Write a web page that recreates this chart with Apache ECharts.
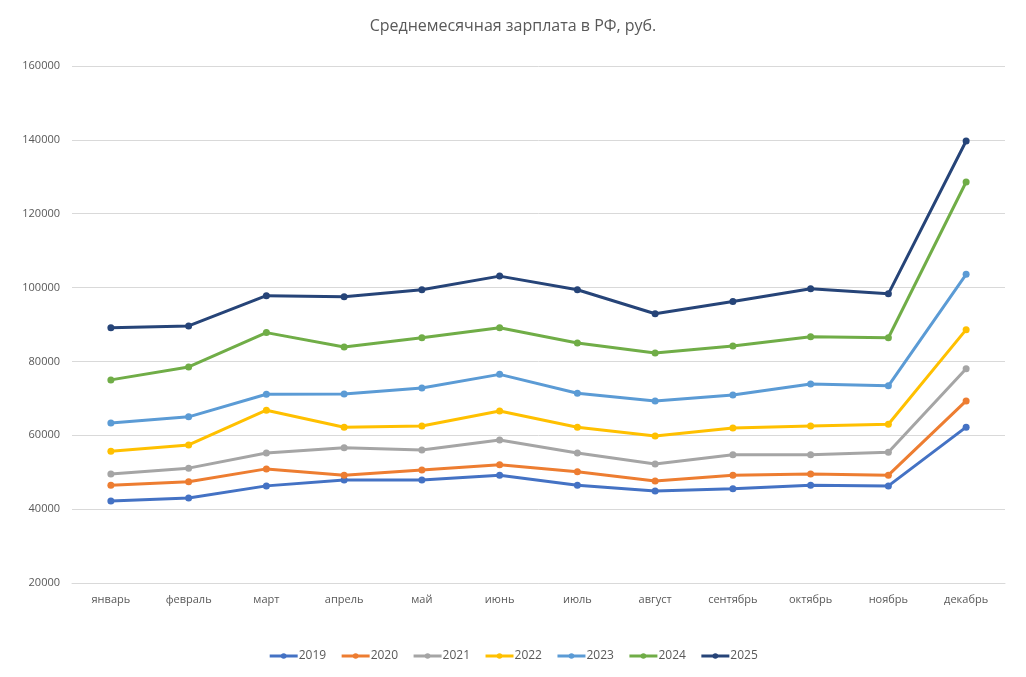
<!DOCTYPE html>
<html>
<head>
<meta charset="utf-8">
<script src="https://cdn.jsdelivr.net/npm/echarts@6/dist/echarts.min.js"></script>
<style>
  html, body { margin: 0; padding: 0; background: #fff; }
  #chart { width: 1026px; height: 677px; }
</style>
</head>
<body>
<div id="chart"></div>
<script>
var months = ['январь', 'февраль', 'март', 'апрель', 'май', 'июнь', 'июль', 'август', 'сентябрь', 'октябрь', 'ноябрь', 'декабрь'];

var y2019 = [42200, 43000, 46300, 47900, 47900, 49200, 46500, 44900, 45500, 46500, 46300, 62200];
var y2020 = [46500, 47400, 50900, 49200, 50600, 52000, 50100, 47600, 49200, 49500, 49200, 69300];
var y2021 = [49500, 51100, 55200, 56600, 56000, 58700, 55200, 52200, 54700, 54700, 55400, 78000];
var y2022 = [55700, 57400, 66800, 62200, 62500, 66600, 62200, 59800, 62000, 62500, 63000, 88600];
var y2023 = [63300, 65000, 71100, 71200, 72800, 76500, 71400, 69300, 70900, 73900, 73400, 103600];
var y2024 = [75000, 78500, 87800, 83900, 86400, 89100, 85000, 82300, 84200, 86700, 86400, 128600];
var y2025 = [89100, 89600, 97800, 97500, 99400, 103100, 99400, 92900, 96200, 99700, 98300, 139700];

var years = ['2019', '2020', '2021', '2022', '2023', '2024', '2025'];
var values = [y2019, y2020, y2021, y2022, y2023, y2024, y2025];
var colors = ['#4472C4', '#ED7D31', '#A5A5A5', '#FFC000', '#5B9BD5', '#70AD47', '#264478'];

var chart = echarts.init(document.getElementById('chart'));

var series = [];
for (var i = 0; i < years.length; i++) {
    series.push({
        name: years[i],
        type: 'line',
        data: values[i],
        symbol: 'circle',
        symbolSize: 7,
        lineStyle: { width: 3, color: colors[i] },
        itemStyle: { color: colors[i] }
    });
}

var option = {
    backgroundColor: '#fff',
    animation: false,
    color: colors,
    title: {
        text: 'Среднемесячная зарплата в РФ, руб.',
        left: 'center',
        top: 13,
        textStyle: {
            fontFamily: 'Open Sans',
            fontSize: 16,
            fontWeight: 'normal',
            color: '#595959'
        }
    },
    legend: {
        bottom: 10,
        itemWidth: 28,
        itemHeight: 7,
        itemGap: 14,
        itemStyle: { borderWidth: 0 },
        lineStyle: { width: 3 },
        textStyle: { fontFamily: 'Open Sans', fontSize: 12, color: '#595959', padding: [0, 0, 0, -4] },
        data: years
    },
    grid: {
        left: 72,
        right: 21,
        top: 66,
        bottom: 94
    },
    xAxis: {
        type: 'category',
        data: months,
        boundaryGap: true,
        axisLine: { lineStyle: { color: '#d9d9d9' } },
        axisTick: { show: false },
        axisLabel: { fontFamily: 'Open Sans', fontSize: 11, color: '#595959', margin: 11 }
    },
    yAxis: {
        type: 'value',
        min: 20000,
        max: 160000,
        interval: 20000,
        axisLine: { show: false },
        axisTick: { show: false },
        splitLine: { lineStyle: { color: '#d9d9d9' } },
        axisLabel: {
            fontFamily: 'Open Sans', fontSize: 11, color: '#595959', margin: 12,
            formatter: function (v) { return String(v); }
        }
    },
    series: series
};

chart.setOption(option);
</script>
</body>
</html>
